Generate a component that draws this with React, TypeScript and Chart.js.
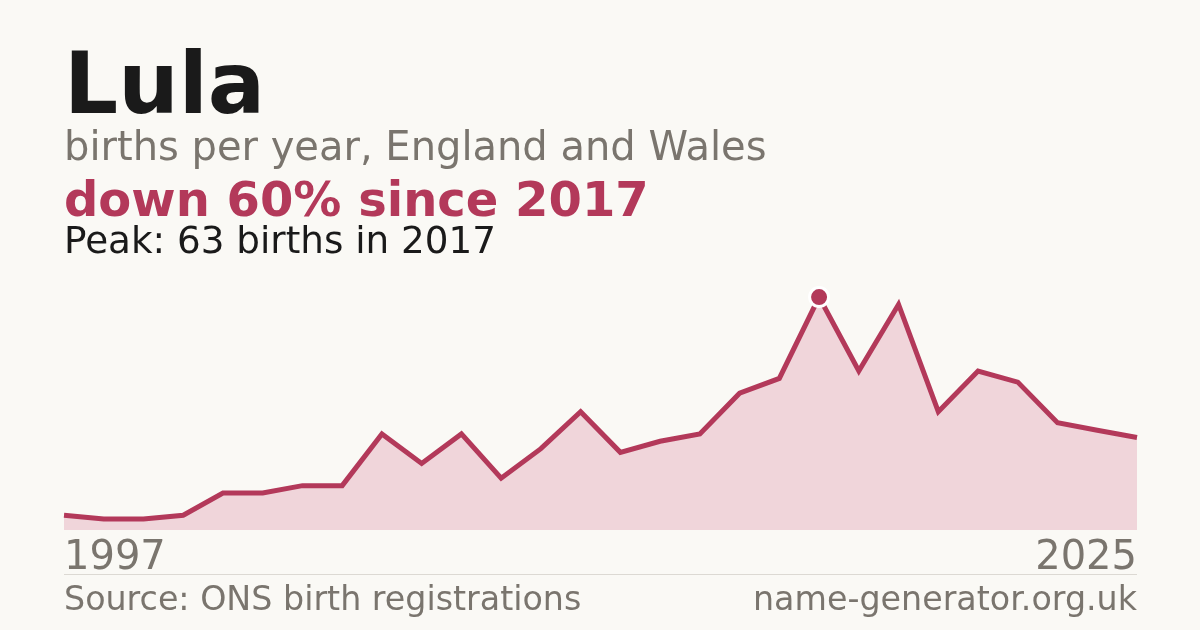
import { useEffect, useRef } from "react";
import { Chart, registerables } from "chart.js";

Chart.register(...registerables);

// births per year for "Lula", England and Wales
const years = [
  1997, 1999, 2000, 2001, 2002, 2003, 2004, 2005, 2006, 2007, 2008, 2009, 2010, 2011,
  2012, 2013, 2014, 2015, 2016, 2017, 2018, 2019, 2020, 2021, 2022, 2023, 2024, 2025,
];
const births = [
  4, 3, 3, 4, 10, 10, 12, 12, 26, 18, 26, 14, 22, 32,
  21, 24, 26, 37, 41, 63, 43, 61, 32, 43, 40, 29, 27, 25,
];
const yAxisMax = 66;

const CRIMSON = "#b3395a";
const FILL = "#f0d5da";
const GREY = "#7a756e";
const BG = "#faf9f5";
const FONT = "'DejaVu Sans', sans-serif";

export default function App() {
  const ref = useRef<HTMLCanvasElement>(null);

  useEffect(() => {
    document.body.style.margin = "0";
    document.body.style.background = BG;
    const peakIndex = births.indexOf(Math.max(...births));
    const chart = new Chart(ref.current!, {
      type: "line",
      data: {
        labels: years.map(String),
        datasets: [
          {
            data: births,
            borderColor: CRIMSON,
            borderWidth: 5,
            backgroundColor: FILL,
            fill: "origin",
            tension: 0,
            pointRadius: (ctx: any) => (ctx.dataIndex === peakIndex ? 9.5 : 0),
            pointBackgroundColor: CRIMSON,
            pointBorderColor: "#ffffff",
            pointBorderWidth: 3,
            clip: false,
          },
        ],
      },
      options: {
        animation: false,
        responsive: false,
        layout: { padding: { left: 64, right: 63, top: 286, bottom: 49 } },
        plugins: { legend: { display: false }, tooltip: { enabled: false } },
        scales: {
          x: {
            grid: { display: false },
            border: { display: false },
            afterFit: (scale: any) => {
              scale.height = 51;
            },
            ticks: {
              autoSkip: false,
              maxRotation: 0,
              align: "inner",
              padding: -3,
              color: GREY,
              font: { family: FONT, size: 40 },
              callback: (_v: any, i: number) =>
                i === 0 || i === years.length - 1 ? String(years[i]) : "",
            },
          },
          y: {
            display: false,
            min: 0,
            max: yAxisMax,
          },
        },
      },
    });
    return () => {
      chart.destroy();
    };
  }, []);

  const text = (top: number, size: number, color: string, weight: number, content: string, right = false) => (
    <div
      style={{
        position: "absolute",
        top,
        left: right ? undefined : 64,
        right: right ? 1200 - 1137 : undefined,
        fontFamily: FONT,
        fontSize: size,
        fontWeight: weight,
        lineHeight: 1,
        color,
        whiteSpace: "nowrap",
      }}
    >
      {content}
    </div>
  );

  return (
    <div style={{ position: "absolute", left: 0, top: 0, width: 1200, height: 630, background: BG, overflow: "hidden" }}>
      <canvas ref={ref} width={1200} height={630} style={{ position: "absolute", left: 0, top: 0 }} />
      {text(41, 85, "#1a1a1a", 700, "Lula")}
      {text(125.5, 40, GREY, 400, "births per year, England and Wales")}
      {text(174.5, 48, CRIMSON, 700, "down 60% since 2017")}
      {text(221.5, 37.3, "#1a1a1a", 400, "Peak: 63 births in 2017")}
      <div style={{ position: "absolute", left: 64, top: 574, width: 1073, height: 1, background: "#dcd9d3" }} />
      {text(582, 33.3, GREY, 400, "Source: ONS birth registrations")}
      {text(582, 33.3, GREY, 400, "name-generator.org.uk", true)}
    </div>
  );
}
